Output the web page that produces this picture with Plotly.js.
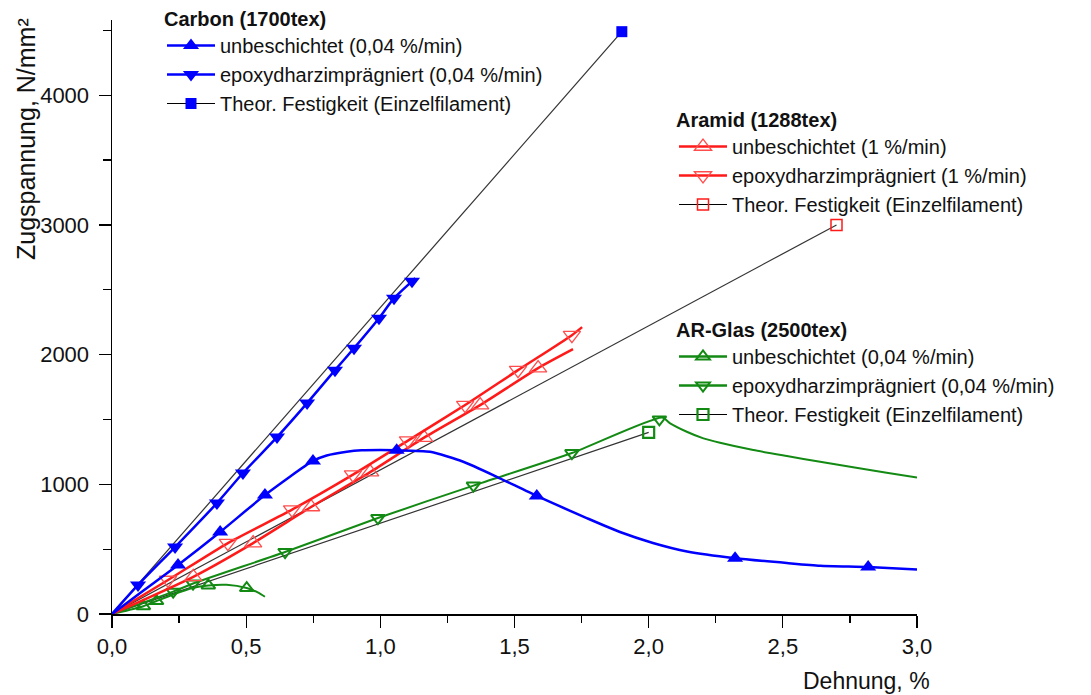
<!DOCTYPE html>
<html>
<head>
<meta charset="utf-8">
<script src="https://cdn.plot.ly/plotly-3.0.1.min.js"></script>
<style>html,body{margin:0;padding:0;background:#fff;}#chart{width:1091px;height:695px;}</style>
</head>
<body>
<div id="chart"></div>
<script>
// ---------- Data (Dehnung in %, Zugspannung in N/mm²) ----------
// Carbon (1700tex)
const carbonUnbX = [0, 0.12, 0.246, 0.403, 0.570, 0.749, 0.80, 0.875, 0.93, 0.999, 1.061, 1.185, 1.309, 1.434, 1.583, 1.769, 1.893, 2.016, 2.143, 2.322, 2.515, 2.639, 2.818, 3.0];
const carbonUnbY = [0, 185, 378, 632, 917, 1180, 1222, 1251, 1262, 1264, 1262, 1251, 1174, 1058, 910, 740, 632, 548, 482, 430, 393, 372, 362, 344];
const carbonUnbMarkX = [0.246, 0.403, 0.570, 0.749, 1.061, 1.583, 2.322, 2.818];
const carbonUnbMarkY = [378, 632, 917, 1180, 1262, 910, 430, 362];

const carbonEpoX = [0, 0.097, 0.235, 0.391, 0.488, 0.615, 0.727, 0.831, 0.902, 0.995, 1.051, 1.118, 1.13];
const carbonEpoY = [0, 224, 516, 855, 1087, 1364, 1626, 1880, 2050, 2281, 2435, 2566, 2590];
const carbonEpoMarkX = [0.097, 0.235, 0.391, 0.488, 0.615, 0.727, 0.831, 0.902, 0.995, 1.051, 1.118];
const carbonEpoMarkY = [224, 516, 855, 1087, 1364, 1626, 1880, 2050, 2281, 2435, 2566];

const carbonTheoX = [0, 1.9];
const carbonTheoY = [0, 4490];

// Aramid (1288tex)
const aramidUnbX = [0, 0.303, 0.526, 0.742, 0.962, 1.163, 1.372, 1.588, 1.718];
const aramidUnbY = [0, 287, 547, 825, 1094, 1360, 1611, 1896, 2042];
const aramidUnbMarkX = [0.303, 0.526, 0.742, 0.962, 1.163, 1.372, 1.588];
const aramidUnbMarkY = [287, 547, 825, 1094, 1360, 1611, 1896];

const aramidEpoX = [0, 0.209, 0.432, 0.671, 0.898, 1.103, 1.316, 1.513, 1.714, 1.752];
const aramidEpoY = [0, 262, 547, 805, 1075, 1337, 1611, 1880, 2150, 2212];
const aramidEpoMarkX = [0.209, 0.432, 0.671, 0.898, 1.103, 1.316, 1.513, 1.714];
const aramidEpoMarkY = [262, 547, 805, 1075, 1337, 1611, 1880, 2150];

const aramidTheoX = [0, 2.7];
const aramidTheoY = [0, 3000];

// AR-Glas (2500tex)
const glassUnbX = [0, 0.117, 0.166, 0.228, 0.30, 0.359, 0.427, 0.502, 0.545, 0.570];
const glassUnbY = [0, 60, 100, 150, 200, 220, 225, 200, 165, 133];
const glassUnbMarkX = [0.117, 0.166, 0.359, 0.502];
const glassUnbMarkY = [60, 100, 220, 200];

const glassEpoX = [0, 0.228, 0.302, 0.645, 0.991, 1.347, 1.714, 2.05, 2.08, 2.142, 2.204, 2.266, 2.39, 2.515, 2.639, 2.762, 2.887, 3.0];
const glassEpoY = [0, 172, 235, 478, 740, 990, 1241, 1515, 1470, 1405, 1354, 1320, 1264, 1218, 1174, 1131, 1089, 1053];
const glassEpoMarkX = [0.228, 0.302, 0.645, 0.991, 1.347, 1.714, 2.04];
const glassEpoMarkY = [172, 235, 478, 740, 990, 1241, 1500];

const glassTheoX = [0, 2.0];
const glassTheoY = [0, 1400];

// Legend labels
const legendTitles = ['Carbon (1700tex)', 'Aramid (1288tex)', 'AR-Glas (2500tex)'];
const labelsCarbon = ['unbeschichtet (0,04 %/min)', 'epoxydharzimprägniert (0,04 %/min)', 'Theor. Festigkeit (Einzelfilament)'];
const labelsAramid = ['unbeschichtet (1 %/min)', 'epoxydharzimprägniert (1 %/min)', 'Theor. Festigkeit (Einzelfilament)'];
const labelsGlass = ['unbeschichtet (0,04 %/min)', 'epoxydharzimprägniert (0,04 %/min)', 'Theor. Festigkeit (Einzelfilament)'];

const xTitle = 'Dehnung, %';
const yTitle = 'Zugspannung, N/mm²';

// ---------- Styles ----------
const BLUE = '#0000ff', RED = '#ff1a1a', REDM = '#ff4d4d', GREEN = '#138a13', BLACK = '#333333';
const FONT = 'Liberation Sans, Arial, sans-serif';

const traces = [];
function curve(x, y, color, width) {
  traces.push({x: x, y: y, type: 'scatter', mode: 'lines', showlegend: false,
    line: {color: color, width: width, shape: 'spline', smoothing: 0.6}, hoverinfo: 'skip', cliponaxis: false});
}
function marks(x, y, marker) {
  traces.push({x: x, y: y, type: 'scatter', mode: 'markers', showlegend: false, marker: marker, cliponaxis: false});
}
function legendItem(name, legend, lineColor, lineWidth, marker) {
  traces.push({x: [null], y: [null], type: 'scatter', mode: 'lines+markers', name: name, legend: legend,
    line: {color: lineColor, width: lineWidth}, marker: marker});
}

const mBlueUp = {symbol: 'triangle-up', size: 14, color: BLUE};
const mBlueDown = {symbol: 'triangle-down', size: 14, color: BLUE};
const mBlueSq = {symbol: 'square', size: 11, color: BLUE};
const mRedUp = {symbol: 'triangle-up-open', size: 15, color: REDM, line: {width: 1.3, color: REDM}};
const mRedDown = {symbol: 'triangle-down-open', size: 15, color: REDM, line: {width: 1.3, color: REDM}};
const mRedSq = {symbol: 'square-open', size: 11, color: RED, line: {width: 1.5, color: RED}};
const mGreenUp = {symbol: 'triangle-up-open', size: 12, color: GREEN, line: {width: 2, color: GREEN}};
const mGreenDown = {symbol: 'triangle-down-open', size: 12, color: GREEN, line: {width: 2, color: GREEN}};
const mGreenSq = {symbol: 'square-open', size: 11, color: GREEN, line: {width: 2.2, color: GREEN}};

// Theoretical lines
curve(carbonTheoX, carbonTheoY, BLACK, 1.2);
curve(aramidTheoX, aramidTheoY, BLACK, 1.2);
curve(glassTheoX, glassTheoY, BLACK, 1.2);
// Glass
curve(glassUnbX, glassUnbY, GREEN, 2);
marks(glassUnbMarkX, glassUnbMarkY, mGreenUp);
curve(glassEpoX, glassEpoY, GREEN, 2);
marks(glassEpoMarkX, glassEpoMarkY, mGreenDown);
marks([glassTheoX[1]], [glassTheoY[1]], mGreenSq);
// Aramid
curve(aramidUnbX, aramidUnbY, RED, 2.5);
marks(aramidUnbMarkX, aramidUnbMarkY, mRedUp);
curve(aramidEpoX, aramidEpoY, RED, 2.5);
marks(aramidEpoMarkX, aramidEpoMarkY, mRedDown);
marks([aramidTheoX[1]], [aramidTheoY[1]], mRedSq);
// Carbon
curve(carbonUnbX, carbonUnbY, BLUE, 2.5);
marks(carbonUnbMarkX, carbonUnbMarkY, mBlueUp);
curve(carbonEpoX, carbonEpoY, BLUE, 2.5);
marks(carbonEpoMarkX, carbonEpoMarkY, mBlueDown);
marks([carbonTheoX[1]], [carbonTheoY[1]], mBlueSq);

// Legend entries
legendItem(labelsCarbon[0], 'legend', BLUE, 2.5, mBlueUp);
legendItem(labelsCarbon[1], 'legend', BLUE, 2.5, mBlueDown);
legendItem(labelsCarbon[2], 'legend', '#000', 1.2, mBlueSq);
legendItem(labelsAramid[0], 'legend2', RED, 2.5, mRedUp);
legendItem(labelsAramid[1], 'legend2', RED, 2.5, mRedDown);
legendItem(labelsAramid[2], 'legend2', '#000', 1.2, mRedSq);
legendItem(labelsGlass[0], 'legend3', GREEN, 2.5, mGreenUp);
legendItem(labelsGlass[1], 'legend3', GREEN, 2.5, mGreenDown);
legendItem(labelsGlass[2], 'legend3', '#000', 1.2, mGreenSq);

function legendCfg(title, px, py) {
  return {
    title: {text: '<b>' + title + '</b>', font: {size: 20, family: FONT, color: '#111'}},
    font: {size: 20, family: FONT, color: '#111'},
    xref: 'container', yref: 'container', x: px / 1091, y: 1 - py / 695,
    xanchor: 'left', yanchor: 'top', bgcolor: 'rgba(0,0,0,0)', borderwidth: 0,
    itemwidth: 48, tracegroupgap: 0, traceorder: 'normal', itemclick: false, itemdoubleclick: false
  };
}

const layout = {
  width: 1091, height: 695,
  margin: {l: 112, r: 174, t: 20, b: 81, autoexpand: false},
  paper_bgcolor: '#fff', plot_bgcolor: '#fff',
  separators: ',.',
  font: {family: FONT, size: 20, color: '#111'},
  xaxis: {
    range: [0, 3.0], dtick: 0.5, tick0: 0, tickformat: '.1f', automargin: false,
    showgrid: false, zeroline: false, showline: true, linecolor: '#000', linewidth: 1.5,
    ticks: 'outside', ticklen: 12, tickwidth: 1.3, tickcolor: '#000',
    tickfont: {size: 22, family: FONT, color: '#111'},
    minor: {dtick: 0.25, ticks: 'outside', ticklen: 7, tickwidth: 1.3, tickcolor: '#000', showgrid: false}
  },
  yaxis: {
    range: [0, 4580], dtick: 1000, tick0: 0, tickformat: 'd', automargin: false,
    showgrid: false, zeroline: false, showline: true, linecolor: '#000', linewidth: 1.5,
    ticks: 'outside', ticklen: 12, tickwidth: 1.3, tickcolor: '#000', ticklabelstandoff: 5,
    tickfont: {size: 22, family: FONT, color: '#111'},
    minor: {dtick: 500, ticks: 'outside', ticklen: 8, tickwidth: 1.3, tickcolor: '#000', showgrid: false}
  },
  legend: legendCfg(legendTitles[0], 162, 0),
  legend2: legendCfg(legendTitles[1], 674, 101),
  legend3: legendCfg(legendTitles[2], 674, 311),
  annotations: [
    {text: xTitle, xref: 'paper', yref: 'paper', x: (932 - 112) / 805, y: (614 - 681) / 594,
     xanchor: 'right', yanchor: 'middle', showarrow: false, font: {size: 23, family: FONT, color: '#111'}},
    {text: yTitle, xref: 'paper', yref: 'paper', x: (26 - 112) / 805, y: (614 - 139) / 594,
     xanchor: 'center', yanchor: 'middle', textangle: -90, showarrow: false, font: {size: 25, family: FONT, color: '#111'}}
  ],
  showlegend: true
};

Plotly.newPlot('chart', traces, layout, {displayModeBar: false, staticPlot: true});
</script>
</body>
</html>
